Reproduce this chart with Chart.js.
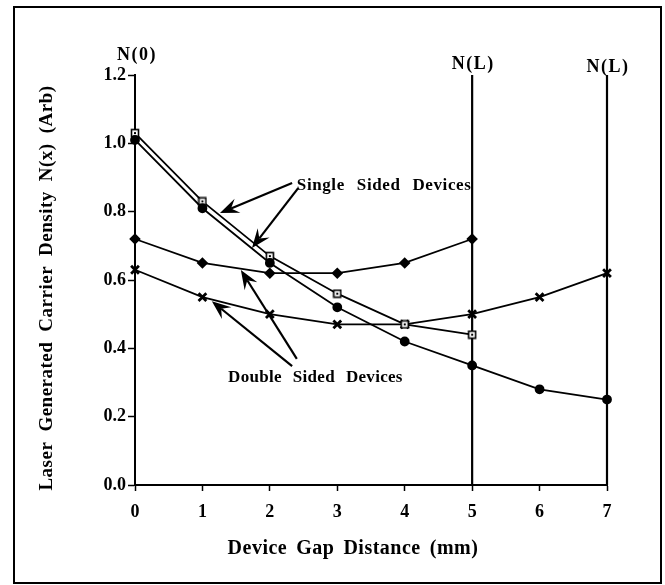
<!DOCTYPE html>
<html>
<head>
<meta charset="utf-8">
<script src="https://cdn.jsdelivr.net/npm/chart.js@4.4.1/dist/chart.umd.min.js"></script>
<style>
  html, body { margin: 0; padding: 0; background: #fff; }
  canvas { display: block; }
</style>
</head>
<body>
<canvas id="chart" width="665" height="585"></canvas>
<script>
// values
const gapDistance = [0, 1, 2, 3, 4, 5, 6, 7];
const singleSquares = [1.03, 0.83, 0.67, 0.56, 0.47, 0.44];
const singleCircles = [1.01, 0.81, 0.65, 0.52, 0.42, 0.35, 0.28, 0.25];
const doubleDiamonds = [0.72, 0.65, 0.62, 0.62, 0.65, 0.72];
const doubleCrosses = [0.63, 0.55, 0.50, 0.47, 0.47, 0.50, 0.55, 0.62];
const boundaryX = [5, 7];
const yRange = [0, 1.2];
const edgeLabels = ["N(0)", "N(L)", "N(L)"];
const edgeLabelX = [0, 5, 7];

const FONT = '"Liberation Serif", "DejaVu Serif", serif';

const toPoints = (ys) => ys.map((y, i) => ({ x: gapDistance[i], y }));

// open square with a dot in the middle
function squareMarker() {
  const c = document.createElement("canvas");
  c.width = 10;
  c.height = 10;
  const g = c.getContext("2d");
  g.fillStyle = "#fff";
  g.fillRect(1, 1, 8, 8);
  g.strokeStyle = "#000";
  g.lineWidth = 1.6;
  g.strokeRect(1.5, 1.5, 7, 7);
  g.fillStyle = "#000";
  g.fillRect(4, 4, 2, 2);
  return c;
}

function spacedText(ctx, text, x, y, gap, align) {
  const words = text.split(" ");
  const widths = words.map((w) => ctx.measureText(w).width);
  const total = widths.reduce((a, b) => a + b, 0) + gap * (words.length - 1);
  let cx = align === "center" ? x - total / 2 : x;
  ctx.textAlign = "left";
  words.forEach((w, i) => {
    ctx.fillText(w, cx, y);
    cx += widths[i] + gap;
  });
}

function arrow(ctx, x1, y1, x2, y2) {
  const ang = Math.atan2(y2 - y1, x2 - x1);
  const len = 19, half = 7.5, notch = 12;
  const c = Math.cos(ang), s = Math.sin(ang);
  ctx.beginPath();
  ctx.moveTo(x1, y1);
  ctx.lineTo(x2 - c * notch, y2 - s * notch);
  ctx.stroke();
  const bx = x2 - c * len, by = y2 - s * len;
  ctx.beginPath();
  ctx.moveTo(x2, y2);
  ctx.lineTo(bx - s * half, by + c * half);
  ctx.lineTo(x2 - c * notch, y2 - s * notch);
  ctx.lineTo(bx + s * half, by - c * half);
  ctx.closePath();
  ctx.fill();
}

const decorations = {
  id: "decorations",
  afterDraw(chart) {
    const { ctx, chartArea } = chart;
    const xs = chart.scales.x, ys = chart.scales.y;
    const px = (v) => xs.getPixelForValue(v);
    const py = (v) => ys.getPixelForValue(v);
    ctx.save();
    ctx.strokeStyle = "#000";
    ctx.fillStyle = "#000";

    // frame
    ctx.lineWidth = 2;
    ctx.strokeRect(14, 7, 647, 576);

    // N(0), N(L) labels
    ctx.font = "bold 18px " + FONT;
    ctx.letterSpacing = "1.5px";
    ctx.textAlign = "center";
    ctx.textBaseline = "middle";
    const labelLift = [20, 11, 8];
    edgeLabels.forEach((t, i) => {
      ctx.fillText(t, px(edgeLabelX[i]) + (i === 0 ? 2 : 1), chartArea.top - labelLift[i]);
    });

    // axis titles
    ctx.letterSpacing = "0.5px";
    ctx.font = "bold 20px " + FONT;
    spacedText(ctx, "Device Gap Distance (mm)", 353, 549, 9, "center");
    ctx.save();
    ctx.translate(47, 288);
    ctx.rotate(-Math.PI / 2);
    ctx.font = "bold 19px " + FONT;
    spacedText(ctx, "Laser Generated Carrier Density N(x) (Arb)", 0, 0, 10, "center");
    ctx.restore();

    // annotations
    ctx.font = "bold 17px " + FONT;
    ctx.letterSpacing = "0.6px";
    spacedText(ctx, "Single Sided Devices", px(2.4), py(0.875), 12, "left");
    ctx.letterSpacing = "0.3px";
    spacedText(ctx, "Double Sided Devices", px(1.38), py(0.313), 11, "left");
    ctx.letterSpacing = "0px";

    ctx.lineWidth = 2.2;
    arrow(ctx, px(2.33), py(0.884), px(1.26), py(0.796));
    arrow(ctx, px(2.42), py(0.869), px(1.735), py(0.694));
    arrow(ctx, px(2.40), py(0.369), px(1.57), py(0.629));
    arrow(ctx, px(2.33), py(0.348), px(1.14), py(0.538));
    ctx.restore();
  },
};

const lineBase = {
  borderColor: "#000",
  borderWidth: 1.8,
  pointBackgroundColor: "#000",
  pointBorderColor: "#000",
  tension: 0,
  fill: false,
  clip: false,
};

const tickFont = { family: FONT, size: 18, weight: "bold" };

new Chart(document.getElementById("chart"), {
  type: "line",
  data: {
    datasets: [
      { ...lineBase, data: toPoints(singleCircles), pointStyle: "circle", pointRadius: 4 },
      { ...lineBase, data: toPoints(singleSquares), pointStyle: squareMarker() },
      { ...lineBase, data: toPoints(doubleDiamonds), pointStyle: "rectRot", pointRadius: 4.5 },
      { ...lineBase, data: toPoints(doubleCrosses), pointStyle: "crossRot", pointRadius: 5.5, pointBorderWidth: 2.8 },
      ...boundaryX.map((x) => ({
        ...lineBase,
        borderWidth: 2.2,
        pointRadius: 0,
        data: yRange.map((y) => ({ x, y })),
      })),
    ],
  },
  options: {
    responsive: false,
    animation: false,
    events: [],
    layout: { padding: { top: 75, right: 58, left: 0, bottom: 0 } },
    plugins: { legend: { display: false }, tooltip: { enabled: false } },
    scales: {
      x: {
        type: "linear",
        min: 0,
        max: 7,
        ticks: { stepSize: 1, color: "#000", font: tickFont, padding: 11 },
        grid: { drawOnChartArea: false, color: "#000", tickLength: 6, tickWidth: 1.5 },
        border: { color: "#000", width: 2 },
        afterFit(s) { s.height = 100; },
      },
      y: {
        min: 0,
        max: 1.2,
        ticks: { stepSize: 0.2, color: "#000", font: tickFont, padding: 2, callback: (v) => v.toFixed(1) },
        grid: { drawOnChartArea: false, color: "#000", tickLength: 7, tickWidth: 1.5 },
        border: { color: "#000", width: 2 },
        afterFit(s) { s.width = 135; },
      },
    },
  },
  plugins: [decorations],
});
</script>
</body>
</html>
